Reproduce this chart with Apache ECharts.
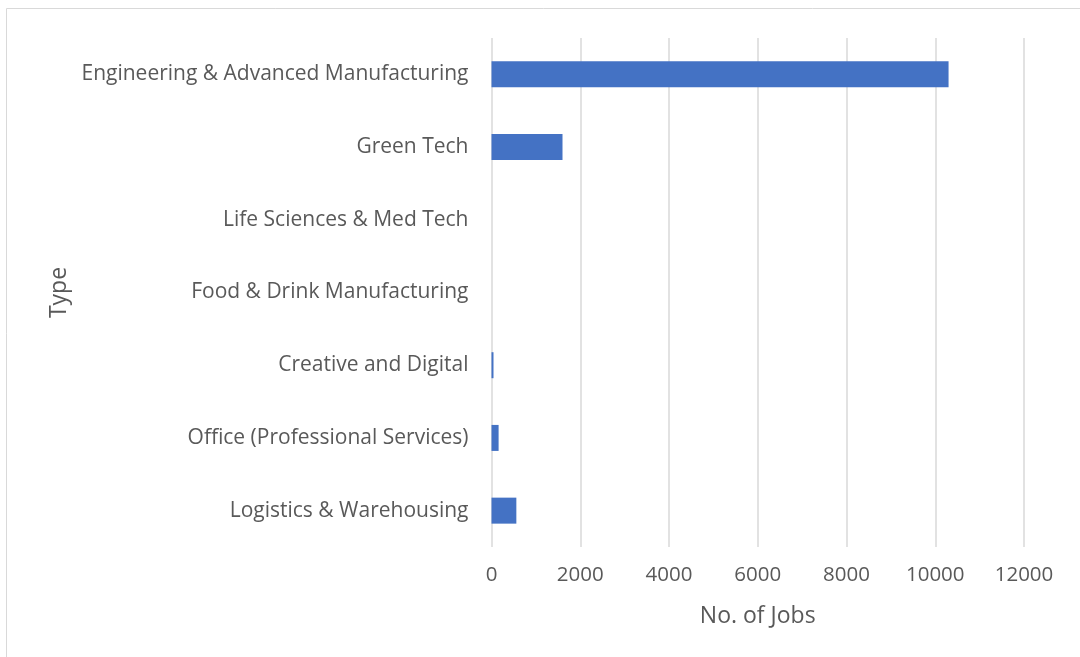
<!DOCTYPE html>
<html>
<head>
<meta charset="utf-8">
<script src="https://cdn.jsdelivr.net/npm/echarts@6/dist/echarts.min.js"></script>
<style>
  html, body { margin: 0; padding: 0; background: #fff; }
  #jobsBar { width: 1080px; height: 657px; }
</style>
</head>
<body>
<div id="jobsBar"></div>
<script>
  // 分类（从下往上）
  var categories = [
    'Logistics & Warehousing',
    'Office (Professional Services)',
    'Creative and Digital',
    'Food & Drink Manufacturing',
    'Life Sciences & Med Tech',
    'Green Tech',
    'Engineering & Advanced Manufacturing'
  ]
  // 岗位数
  var jobs = [560, 160, 45, 0, 0, 1600, 10300]

  var textColor = '#595959'
  var font = '"Open Sans", sans-serif'

  var myChart = echarts.init(document.getElementById('jobsBar'))
  myChart.setOption({
    animation: false,
    textStyle: { fontFamily: font, color: textColor },
    graphic: [{
      type: 'rect',
      shape: { x: 6.5, y: 8.5, width: 1200, height: 800 },
      style: { fill: 'none', stroke: '#d9d9d9', lineWidth: 1 }
    }],
    grid: { left: 491.5, right: 56, top: 38, bottom: 110 },
    xAxis: {
      type: 'value',
      min: 0,
      max: 12000,
      interval: 2000,
      name: 'No. of Jobs',
      nameLocation: 'middle',
      nameGap: 58,
      nameTextStyle: { fontSize: 23, color: textColor, fontFamily: font },
      axisLine: { show: false },
      axisTick: { show: false },
      axisLabel: {
        fontSize: 20.5,
        color: textColor,
        margin: 18,
        fontFamily: font,
        formatter: function (v) { return String(v) }
      },
      splitLine: { lineStyle: { color: '#d9d9d9', width: 1.5 } }
    },
    yAxis: {
      type: 'category',
      data: categories,
      name: 'Type',
      nameLocation: 'middle',
      nameGap: 421,
      nameRotate: 90,
      nameTextStyle: { fontSize: 23, color: textColor, fontFamily: font },
      axisLine: { show: false },
      axisTick: { show: false },
      axisLabel: { fontSize: 21, color: textColor, margin: 23, fontFamily: font }
    },
    series: [{
      type: 'bar',
      data: jobs,
      barWidth: 26,
      itemStyle: { color: '#4472C4' }
    }]
  })
</script>
</body>
</html>
